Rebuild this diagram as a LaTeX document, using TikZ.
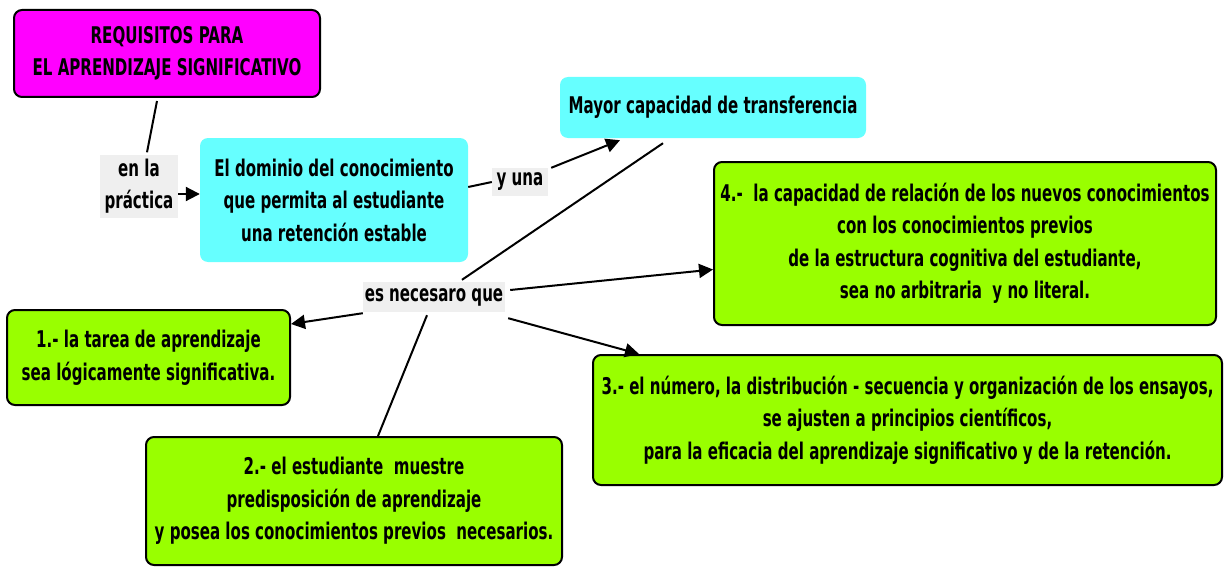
\documentclass[tikz,border=0pt]{standalone}
\usepackage{fontspec}
\newfontfamily\mapfont{DejaVu Sans}[FakeStretch=0.655]
\usetikzlibrary{arrows.meta}
\definecolor{rosa}{HTML}{FF00FF}
\definecolor{celeste}{HTML}{66FFFF}
\definecolor{verde}{HTML}{99FF00}
\definecolor{gris}{HTML}{EFEFEF}
\tikzset{
  concepto/.style={rectangle, rounded corners=8pt, align=center, inner sep=0pt,
    font=\mapfont\bfseries\fontsize{23}{32.5}\selectfont},
  req/.style={concepto, draw, line width=2pt, fill=verde},
  tema/.style={concepto, fill=celeste},
  enlace/.style={rectangle, fill=gris, align=center, inner sep=0pt,
    font=\mapfont\bfseries\fontsize{23}{32.5}\selectfont},
  arr/.style={-{Triangle[length=14pt,width=14pt]}, line width=2pt},
  lin/.style={line width=2pt}
}
\begin{document}
\begin{tikzpicture}[x=1pt, y=-1pt]
        \useasboundingbox (0,0) rectangle (1228,567);
        \node[concepto, draw, line width=2pt, fill=rosa, minimum width=306pt, minimum height=87pt] (titulo) at (167,53.5){REQUISITOS PARA\\EL APRENDIZAJE SIGNIFICATIVO};
        \node[enlace, minimum width=78pt, minimum height=63pt] (practica) at (139,186){en la\\práctica};
        \node[tema, minimum width=268pt, minimum height=124pt] (dominio) at (334,200){El dominio del conocimiento\\que permita al estudiante\\una retención estable};
        \node[enlace, minimum width=56pt, minimum height=28pt] (yuna) at (520,182){y una};
        \node[tema, minimum width=306pt, minimum height=61pt] (mayor) at (713,107.5){Mayor capacidad de transferencia};
        \node[enlace, minimum width=142pt, minimum height=30pt] (necesaro) at (434,297){es necesaro que};
        \node[req, minimum width=283pt, minimum height=95pt] (r1) at (148.5,357.5){1.- la tarea de aprendizaje\\sea lógicamente significativa.};
        \node[req, minimum width=416pt, minimum height=128pt] (r2) at (354,501){2.- el estudiante\ \ muestre\\predisposición de aprendizaje\\y posea los conocimientos previos\ \ necesarios.};
        \node[req, minimum width=629pt, minimum height=130pt] (r3) at (907.5,420){3.- el número, la distribución - secuencia y organización de los ensayos,\\se ajusten a principios científicos,\\para la eficacia del aprendizaje significativo y de la retención.};
        \node[req, minimum width=502pt, minimum height=163pt] (r4) at (965,243.5){4.-\ \ la capacidad de relación de los nuevos conocimientos\\con los conocimientos previos\\de la estructura cognitiva del estudiante,\\sea no arbitraria\ \ y no literal.};
        \draw[lin] ([xshift=-10pt,yshift=-3pt]titulo.south) -- ([xshift=8pt,yshift=2pt]practica.north);
        \draw[arr] ([yshift=-8pt]practica.east) -- ([yshift=6pt]dominio.west);
        \draw[lin] ([yshift=13pt]dominio.east) -- (yuna.west);
        \draw[arr] ([xshift=3pt]yuna.north east) -- ([xshift=-93pt,yshift=-2pt]mayor.south);
        \draw[lin] ([xshift=-50pt,yshift=-5pt]mayor.south) -- ([xshift=28pt,yshift=2pt]necesaro.north);
        \draw[arr] ([yshift=-1pt]necesaro.south west) -- ([yshift=-15pt]r1.north east);
        \draw[lin] ([xshift=-7pt,yshift=-3pt]necesaro.south) -- ([xshift=24pt]r2.north);
        \draw[arr] ([xshift=5pt,yshift=7pt]necesaro.east) -- ([yshift=-26pt]r4.west);
        \draw[arr] ([xshift=3pt,yshift=-6pt]necesaro.south east) -- ([xshift=47pt]r3.north west);
\end{tikzpicture}
\end{document}
